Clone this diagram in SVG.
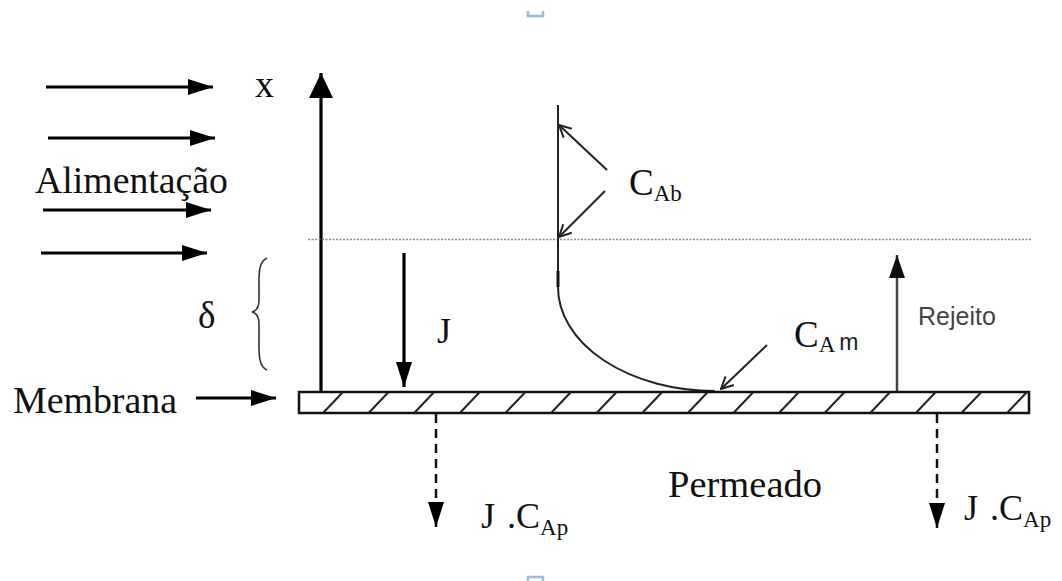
<svg xmlns="http://www.w3.org/2000/svg" width="1062" height="581" viewBox="0 0 1062 581">
<style>
.serif{font-family:"Liberation Serif","Times New Roman",serif;fill:#111}
.sans{font-family:"Liberation Sans",Arial,sans-serif;fill:#333}
.thick{stroke:#000;stroke-width:3.2;fill:none}
.thin{stroke:#222;stroke-width:2;fill:none}
.hatch{stroke:#222;stroke-width:2}
</style>
<defs>
<marker id="ah" markerUnits="userSpaceOnUse" viewBox="0 0 25 16" refX="25" refY="8" markerWidth="25" markerHeight="16" orient="auto"><path d="M0,0 L25,8 L0,16 z" fill="#000"/></marker>
<marker id="ahbig" markerUnits="userSpaceOnUse" viewBox="0 0 25 24" refX="25" refY="12" markerWidth="25" markerHeight="24" orient="auto"><path d="M0,0 L25,12 L0,24 z" fill="#000"/></marker>
<marker id="ahgray" markerUnits="userSpaceOnUse" viewBox="0 0 23 16" refX="23" refY="8" markerWidth="23" markerHeight="16" orient="auto"><path d="M0,0 L23,8 L0,16 z" fill="#111"/></marker>
<marker id="open" markerUnits="userSpaceOnUse" viewBox="0 0 14 14" refX="13" refY="7" markerWidth="14" markerHeight="14" orient="auto"><path d="M1,1 L13,7 L1,13" fill="none" stroke="#222" stroke-width="2"/></marker>
</defs>

<g id="connectors">
<line class="thick" x1="46" y1="87" x2="213" y2="87" marker-end="url(#ah)"/>
<line class="thick" x1="48" y1="138" x2="215" y2="138" marker-end="url(#ah)"/>
<line class="thick" x1="43" y1="210" x2="211" y2="210" marker-end="url(#ah)"/>
<line class="thick" x1="41" y1="253" x2="207" y2="253" marker-end="url(#ah)"/>
<line class="thick" x1="196" y1="398" x2="276" y2="398" marker-end="url(#ah)"/>
<line class="thick" x1="321" y1="392" x2="321" y2="73" marker-end="url(#ahbig)"/>
<line class="thick" x1="404" y1="253" x2="404" y2="387" marker-end="url(#ah)"/>
<line x1="897" y1="392" x2="897" y2="255" stroke="#444" stroke-width="2.5" marker-end="url(#ahgray)"/>
<line x1="436" y1="414" x2="436" y2="527" stroke="#111" stroke-width="2.5" stroke-dasharray="9,6" marker-end="url(#ah)"/>
<line x1="937" y1="414" x2="937" y2="528" stroke="#111" stroke-width="2.5" stroke-dasharray="9,6" marker-end="url(#ah)"/>
<line class="thin" x1="607" y1="170" x2="559" y2="125" marker-end="url(#open)"/>
<line class="thin" x1="605" y1="191" x2="559" y2="237" marker-end="url(#open)"/>
<line class="thin" x1="767" y1="345" x2="721" y2="389" marker-end="url(#open)"/>
</g>

<g id="boundary-layer">
<line x1="308" y1="239.5" x2="1032" y2="239.5" stroke="#888" stroke-width="1.5" stroke-dasharray="2,1.5"/>
<path d="M267,258 C258,262 259,275 259,290 L259,300 C259,308 256,311 252,312 C256,313 259,316 259,324 L259,338 C259,353 258,366 267,370" fill="none" stroke="#333" stroke-width="1.6"/>
</g>

<g id="profile">
<line x1="558" y1="105" x2="558" y2="287" stroke="#222" stroke-width="2"/>
<line x1="558" y1="271" x2="558" y2="287" stroke="#111" stroke-width="3"/>
<path d="M558,287 A157,104 0 0 0 715,391" fill="none" stroke="#222" stroke-width="2"/>
</g>

<g id="membrane">
<rect x="299" y="392" width="730" height="21" fill="#fff" stroke="#111" stroke-width="2.5"/>
<g class="hatch">
<line x1="323" y1="413" x2="343" y2="392"/>
<line x1="368.6" y1="413" x2="388.6" y2="392"/>
<line x1="414.2" y1="413" x2="434.2" y2="392"/>
<line x1="459.8" y1="413" x2="479.8" y2="392"/>
<line x1="505.4" y1="413" x2="525.4" y2="392"/>
<line x1="551" y1="413" x2="571" y2="392"/>
<line x1="596.6" y1="413" x2="616.6" y2="392"/>
<line x1="642.2" y1="413" x2="662.2" y2="392"/>
<line x1="687.8" y1="413" x2="707.8" y2="392"/>
<line x1="733.4" y1="413" x2="753.4" y2="392"/>
<line x1="779" y1="413" x2="799" y2="392"/>
<line x1="824.6" y1="413" x2="844.6" y2="392"/>
<line x1="870.2" y1="413" x2="890.2" y2="392"/>
<line x1="915.8" y1="413" x2="935.8" y2="392"/>
<line x1="961.4" y1="413" x2="981.4" y2="392"/>
<line x1="1007" y1="413" x2="1027" y2="392"/>
</g>
</g>

<g id="labels">
<text class="serif" x="255" y="97" font-size="38">x</text>
<text class="serif" x="35" y="193" font-size="37" textLength="193" lengthAdjust="spacingAndGlyphs">Alimentação</text>
<text class="serif" x="13" y="413" font-size="37" textLength="164" lengthAdjust="spacingAndGlyphs">Membrana</text>
<text class="serif" x="198" y="328" font-size="37">δ</text>
<text class="serif" x="437" y="343" font-size="36">J</text>
<text class="serif" x="629" y="195" font-size="37">C<tspan font-size="23" dy="6">Ab</tspan></text>
<text class="serif" x="794" y="347" font-size="37">C<tspan font-size="23" dy="5">A</tspan><tspan class="sans" font-size="23" dx="4" dy="-2" style="fill:#222">m</tspan></text>
<text class="sans" x="918" y="325" font-size="25" style="fill:#444">Rejeito</text>
<text class="serif" x="668" y="497" font-size="37" textLength="154" lengthAdjust="spacingAndGlyphs">Permeado</text>
<text class="serif" x="481" y="528" font-size="36">J <tspan dx="3">.C</tspan><tspan font-size="23" dy="7">Ap</tspan></text>
<text class="serif" x="964" y="520" font-size="36">J <tspan dx="3">.C</tspan><tspan font-size="23" dy="7">Ap</tspan></text>
</g>

<g id="handles" fill="none" stroke="#9dbbd8" stroke-width="2.5">
<path d="M528,11 L528,16 L543,16 L543,11"/>
<path d="M528,581 L528,577 L543,577 L543,581"/>
</g>
</svg>
